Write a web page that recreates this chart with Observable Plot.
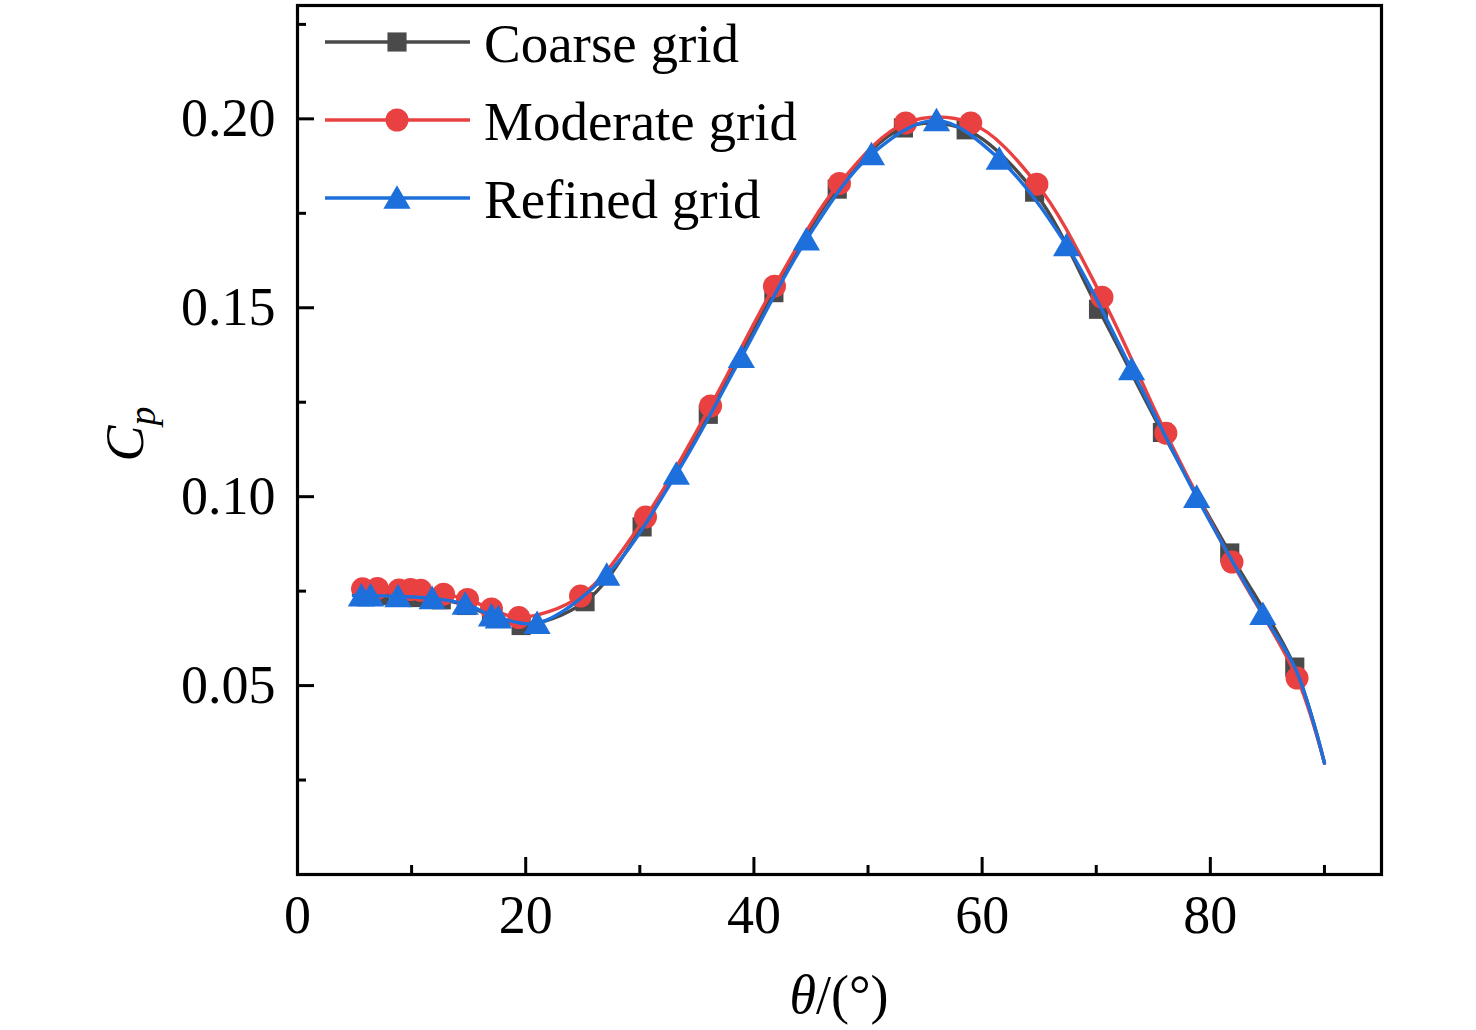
<!DOCTYPE html>
<html>
<head>
<meta charset="utf-8">
<script src="https://cdn.jsdelivr.net/npm/d3@7"></script>
<script src="https://cdn.jsdelivr.net/npm/@observablehq/plot@0.6"></script>
<style>
  body { margin: 0; background: #fff; }
  svg { display: block; }
</style>
</head>
<body>
<div id="chart"></div>
<script>
// ---- data ----
const seriesNames = ["Coarse grid", "Moderate grid", "Refined grid"];
const seriesColors = ["#4a4a4a", "#e94141", "#1d6fdc"];
const seriesSymbols = ["square", "circle", "triangle"];

// marker points
const coarseTheta = [5.8, 7.2, 9.0, 10.5, 12.6, 14.8, 17.0, 19.6, 25.2, 30.2, 36.0, 41.75, 47.3, 53.1, 58.6, 64.6, 70.2, 75.8, 81.7, 87.4];
const coarseCp    = [0.0740, 0.0738, 0.0736, 0.0733, 0.0727, 0.0712, 0.0684, 0.0659, 0.0722, 0.0920, 0.1218, 0.1540, 0.1814, 0.1976, 0.1971, 0.1806, 0.1496, 0.1170, 0.0851, 0.0549];

const moderateTheta = [5.7, 7.0, 8.9, 9.9, 10.8, 12.8, 14.9, 17.0, 19.4, 24.8, 30.5, 36.2, 41.8, 47.5, 53.3, 59.0, 64.8, 70.5, 76.1, 81.9, 87.6];
const moderateCp    = [0.0756, 0.0757, 0.0753, 0.0754, 0.0752, 0.0742, 0.0728, 0.0703, 0.0680, 0.0737, 0.0946, 0.1240, 0.1557, 0.1829, 0.1989, 0.1989, 0.1827, 0.1528, 0.1168, 0.0827, 0.0520];

const refinedTheta = [5.6, 6.4, 8.8, 11.8, 14.7, 17.0, 17.6, 21.0, 27.1, 33.2, 38.9, 44.6, 50.3, 56.0, 61.5, 67.4, 73.1, 78.8, 84.6];
const refinedCp    = [0.0738, 0.0738, 0.0736, 0.0731, 0.0716, 0.0685, 0.0680, 0.0665, 0.0793, 0.1060, 0.1369, 0.1680, 0.1906, 0.1996, 0.1894, 0.1665, 0.1337, 0.0999, 0.0689];

// extra curve points where the smooth lines begin and end (no markers there)
const coarseLineHead = [[4.9, 0.0741]];
const coarseLineTail = [[90, 0.0295]];
const moderateLineHead = [[4.9, 0.0757]];
const moderateLineTail = [[90, 0.0295]];
const refinedLineHead = [[4.9, 0.0738]];
const refinedLineTail = [[87.5, 0.0542], [90, 0.0295]];

// axis ticks
const xMajorTicks = [0, 20, 40, 60, 80];
const xMinorTicks = [10, 30, 50, 70, 90];
const yMajorTicks = [0.05, 0.10, 0.15, 0.20];
const yMinorTicks = [0.025, 0.075, 0.125, 0.175, 0.225];

// ---- build ----
const toRows = (t, c) => t.map((x, i) => ({theta: x, cp: c[i]}));
const pairRows = (arr) => arr.map(([x, y]) => ({theta: x, cp: y}));

const series = [
  {points: toRows(coarseTheta, coarseCp), head: coarseLineHead, tail: coarseLineTail, r: 10.8, dy: 0},
  {points: toRows(moderateTheta, moderateCp), head: moderateLineHead, tail: moderateLineTail, r: 11.5, dy: 0},
  {points: toRows(refinedTheta, refinedCp), head: refinedLineHead, tail: refinedLineTail, r: 10.1, dy: 3}
].map((s, i) => ({...s, name: seriesNames[i], color: seriesColors[i], symbol: seriesSymbols[i],
  line: [...pairRows(s.head), ...s.points, ...pairRows(s.tail)]}));

const FONT = "'Liberation Serif', 'Times New Roman', serif";
const marks = [];
series.forEach(s => {
  marks.push(Plot.line(s.line, {x: "theta", y: "cp", stroke: s.color, strokeWidth: 3.4, curve: "catmull-rom"}));
  marks.push(Plot.dot(s.points, {x: "theta", y: "cp", symbol: s.symbol, fill: s.color, stroke: "none", r: s.r, dy: s.dy}));
});

marks.push(
  Plot.axisX({ticks: xMajorTicks, tickSize: -17, tickPadding: 37, strokeWidth: 3, tickFormat: d => String(d), label: null}),
  Plot.axisX({ticks: xMinorTicks, tickSize: -9, strokeWidth: 3, tickFormat: () => "", label: null}),
  Plot.axisY({ticks: yMajorTicks, tickSize: -17, tickPadding: 39, strokeWidth: 3, tickFormat: d3.format(".2f"), label: null}),
  Plot.axisY({ticks: yMinorTicks, tickSize: -9, strokeWidth: 3, tickFormat: () => "", label: null}),
  Plot.frame({stroke: "#000", strokeWidth: 3.2})
);

const chart = Plot.plot({
  width: 1476,
  height: 1030,
  marginLeft: 297,
  marginRight: 95,
  marginTop: 5,
  marginBottom: 156,
  x: {domain: [0, 95]},
  y: {domain: [0, 0.23]},
  style: {fontFamily: FONT, fontSize: "54px", color: "#000", background: "#fff"},
  marks
});

const svg = d3.select(chart);

// legend (inside the plot, top-left)
const legendY = [42, 120, 198];
const lg = svg.append("g").attr("class", "legend");
series.forEach((s, i) => {
  const y = legendY[i];
  lg.append("line").attr("x1", 325).attr("x2", 470).attr("y1", y).attr("y2", y)
    .attr("stroke", s.color).attr("stroke-width", 3.4);
  const symType = s.symbol === "square" ? d3.symbolSquare : s.symbol === "circle" ? d3.symbolCircle : d3.symbolTriangle;
  lg.append("path").attr("d", d3.symbol(symType, Math.PI * s.r * s.r)())
    .attr("transform", `translate(397,${y + s.dy})`).attr("fill", s.color);
  lg.append("text").attr("x", 484).attr("y", y + 20).attr("text-anchor", "start")
    .attr("font-family", FONT).attr("font-size", 55).attr("fill", "#000").text(s.name);
});

// x axis label: θ/(°)
const xl = svg.append("text").attr("x", 839).attr("y", 1013).attr("text-anchor", "middle")
  .attr("font-family", FONT).attr("font-size", 54).attr("fill", "#000");
xl.append("tspan").attr("font-style", "italic").text("θ");
xl.append("tspan").text("/(°)");

// y axis label: C_p
const yl = svg.append("text").attr("transform", "translate(143,434) rotate(-90)").attr("text-anchor", "middle")
  .attr("font-family", FONT).attr("font-size", 54).attr("fill", "#000");
yl.append("tspan").attr("font-style", "italic").text("C");
yl.append("tspan").attr("font-style", "italic").attr("font-size", 38).attr("dy", 12).text("p");

document.getElementById("chart").appendChild(chart);
</script>
</body>
</html>
